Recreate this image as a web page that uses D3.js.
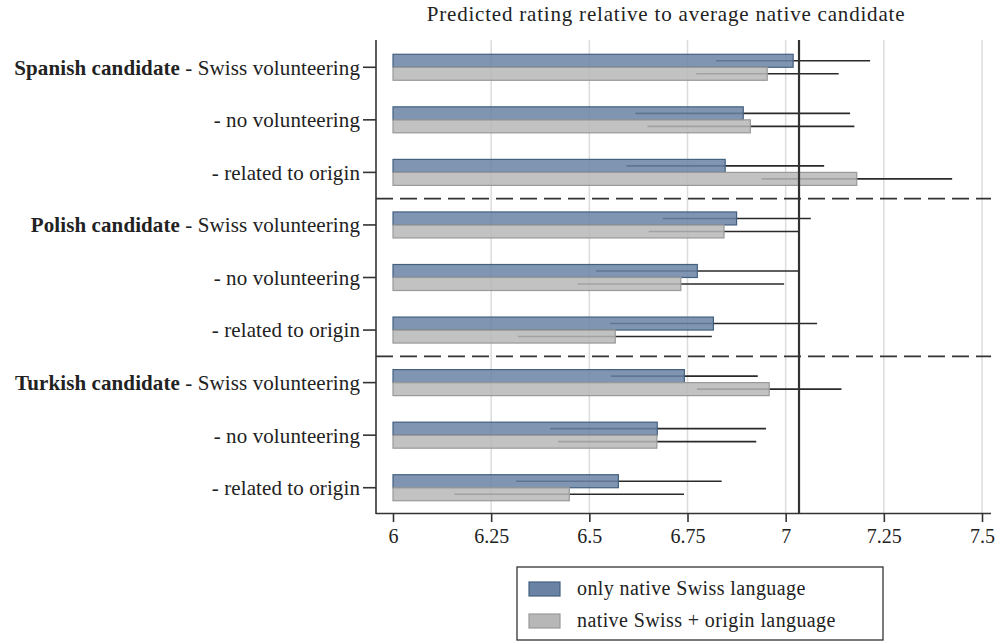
<!DOCTYPE html>
<html><head><meta charset="utf-8">
<script src="https://cdn.jsdelivr.net/npm/d3@7"></script>
<style>body{margin:0;background:#fff}svg{display:block}text{font-family:"Liberation Serif","Times New Roman",serif;fill:#222}</style>
</head><body><svg id="c" width="998" height="642"></svg>
<script>
const groups = ["Spanish candidate", "", "", "Polish candidate", "", "", "Turkish candidate", "", ""];
const conditions = ["- Swiss volunteering", "- no volunteering", "- related to origin",
  "- Swiss volunteering", "- no volunteering", "- related to origin",
  "- Swiss volunteering", "- no volunteering", "- related to origin"];
const seriesNames = ["only native Swiss language", "native Swiss + origin language"];
const nativeValues = [7.019, 6.892, 6.846, 6.875, 6.775, 6.816, 6.742, 6.673, 6.574];
const nativeLow    = [6.823, 6.617, 6.595, 6.687, 6.517, 6.553, 6.555, 6.400, 6.313];
const nativeHigh   = [7.215, 7.164, 7.098, 7.064, 7.032, 7.080, 6.929, 6.950, 6.837];
const originValues = [6.953, 6.910, 7.181, 6.843, 6.733, 6.566, 6.958, 6.672, 6.449];
const originLow    = [6.772, 6.648, 6.939, 6.651, 6.470, 6.318, 6.774, 6.420, 6.156];
const originHigh   = [7.135, 7.175, 7.424, 7.033, 6.996, 6.812, 7.142, 6.925, 6.741];
const xTicks = [6, 6.25, 6.5, 6.75, 7, 7.25, 7.5];
const xTickLabels = ["6", "6.25", "6.5", "6.75", "7", "7.25", "7.5"];
const referenceValue = 7.034;
const title = "Predicted rating relative to average native candidate";

const svg = d3.select("#c");
const L = 376, R = 991, T = 40, B = 513;
const x = d3.scaleLinear().domain([6, 7.5]).range([393, 982]);
const y = d3.scaleBand().domain(d3.range(9)).range([T + 1, B + 1]).paddingInner(0.5).paddingOuter(0.25);
const rowC = i => y(i) + y.bandwidth() / 2;
const barH = 13;
const colors = [{fill: "#6a83a5", stroke: "#44607f"}, {fill: "#b7b7b7", stroke: "#999"}];

// grid
svg.append("g").selectAll("line").data(xTicks.slice(1)).join("line")
  .attr("x1", d => x(d)).attr("x2", d => x(d)).attr("y1", T).attr("y2", B)
  .attr("stroke", "#dcdcdc").attr("stroke-width", 1.5);

// dashed separators
svg.append("g").selectAll("line").data([2.5, 5.5]).join("line")
  .attr("x1", L).attr("x2", R)
  .attr("y1", d => (rowC(Math.floor(d)) + rowC(Math.ceil(d))) / 2)
  .attr("y2", d => (rowC(Math.floor(d)) + rowC(Math.ceil(d))) / 2)
  .attr("stroke", "#333").attr("stroke-width", 1.6).attr("stroke-dasharray", "17,7");

const series = [
  {v: nativeValues, lo: nativeLow, hi: nativeHigh, off: -barH / 2},
  {v: originValues, lo: originLow, hi: originHigh, off: barH / 2}
];
series.forEach((s, k) => {
  const g = svg.append("g");
  g.selectAll("line.ci").data(d3.range(9)).join("line")
    .attr("x1", i => x(s.lo[i])).attr("x2", i => x(s.hi[i]))
    .attr("y1", i => rowC(i) + s.off).attr("y2", i => rowC(i) + s.off)
    .attr("stroke", "#2a2a2a").attr("stroke-width", 1.6);
  g.selectAll("rect").data(d3.range(9)).join("rect")
    .attr("x", x(6)).attr("width", i => x(s.v[i]) - x(6))
    .attr("y", i => rowC(i) + s.off - barH / 2).attr("height", barH)
    .attr("fill", colors[k].fill).attr("fill-opacity", 0.85)
    .attr("stroke", colors[k].stroke).attr("stroke-width", 1.2);
});

// reference line
svg.append("line").attr("x1", x(referenceValue)).attr("x2", x(referenceValue))
  .attr("y1", T).attr("y2", B).attr("stroke", "#333").attr("stroke-width", 2.2);

// axes
const xAxis = d3.axisBottom(x).tickValues(xTicks).tickFormat((d, i) => xTickLabels[i]).tickSize(9).tickPadding(7);
const gx = svg.append("g").attr("transform", `translate(0,${B})`).call(xAxis);
gx.select(".domain").attr("d", `M${L},0.5H${R}`).attr("stroke", "#333").attr("stroke-width", 1.6);
gx.selectAll(".tick line").attr("stroke", "#333").attr("stroke-width", 1.6);
gx.selectAll(".tick text").attr("font-size", 20).attr("font-family", "Liberation Serif").attr("fill", "#222");

svg.append("line").attr("x1", L).attr("x2", L).attr("y1", T).attr("y2", B + 1)
  .attr("stroke", "#333").attr("stroke-width", 1.6);
const yt = svg.append("g").selectAll("g").data(d3.range(9)).join("g")
  .attr("transform", i => `translate(0,${rowC(i)})`);
yt.append("line").attr("x1", L - 13).attr("x2", L).attr("stroke", "#333").attr("stroke-width", 1.6);
const lab = yt.append("text").attr("x", L - 16).attr("dy", "0.35em").attr("text-anchor", "end")
  .attr("font-size", 21).attr("letter-spacing", 0.1);
lab.append("tspan").attr("font-weight", "bold").text(i => groups[i] ? groups[i] + " " : "");
lab.append("tspan").text(i => conditions[i]);

// title
svg.append("text").attr("x", 666).attr("y", 21).attr("text-anchor", "middle").attr("font-size", 21)
  .attr("letter-spacing", 0.8).text(title);

// legend
const lg = svg.append("g");
lg.append("rect").attr("x", 517).attr("y", 567).attr("width", 366).attr("height", 73)
  .attr("fill", "#fff").attr("stroke", "#333").attr("stroke-width", 1.3);
seriesNames.forEach((n, k) => {
  lg.append("rect").attr("x", 529).attr("y", 582 + k * 32).attr("width", 31).attr("height", 14)
    .attr("fill", colors[k].fill).attr("stroke", colors[k].stroke).attr("stroke-width", 1.2);
  lg.append("text").attr("x", 577).attr("y", 595 + k * 32).attr("font-size", 20)
    .attr("letter-spacing", 0.4).text(n);
});
</script></body></html>
